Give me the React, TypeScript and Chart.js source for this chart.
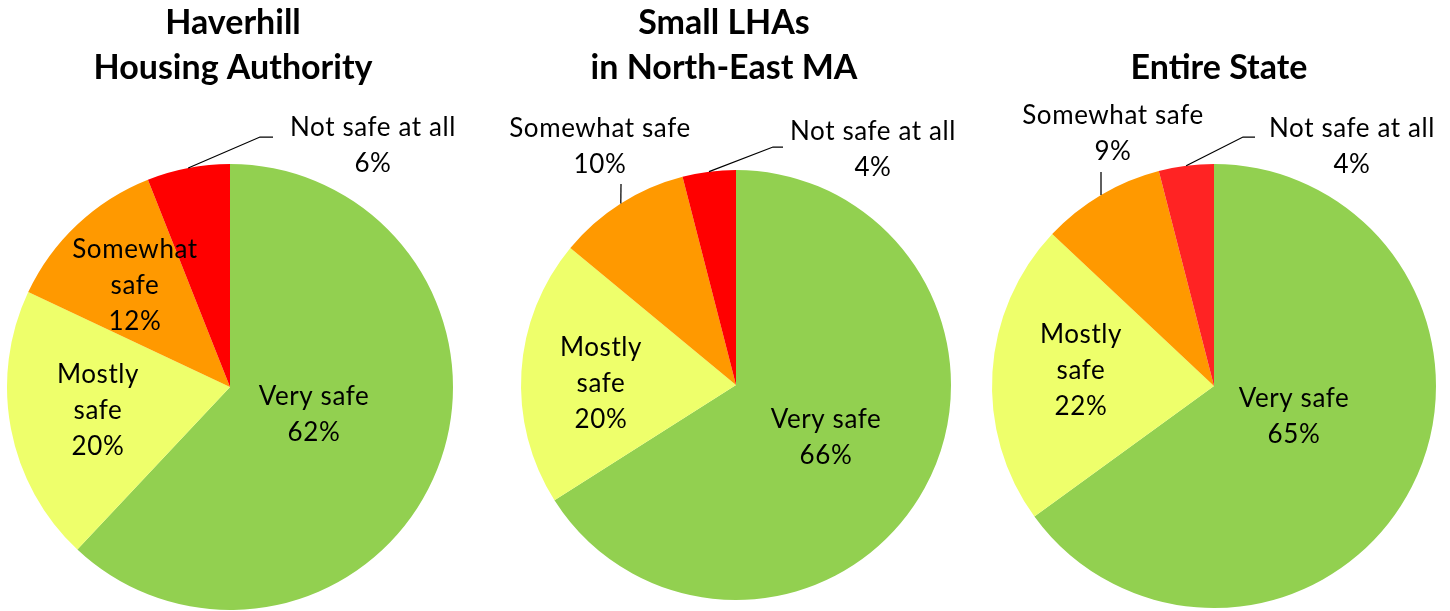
import React, { useEffect, useRef } from "react";
import { Chart, registerables } from "chart.js";

Chart.register(...registerables);

// ---------- data ----------
const categories = ["Very safe", "Mostly safe", "Somewhat safe", "Not safe at all"];

const haverhillTitle = ["Haverhill", "Housing Authority"];
const smallLhaTitle = ["Small LHAs", "in North-East MA"];
const stateTitle = ["Entire State"];

const haverhillValues = [62, 20, 12, 6];
const smallLhaValues = [66, 20, 10, 4];
const stateValues = [65, 22, 9, 4];

const sliceColors = ["#92D050", "#EEFF6B", "#FF9900", "#FF0000"];
const stateSliceColors = ["#92D050", "#EEFF6B", "#FF9900", "#FF2323"];

// ---------- layout / style ----------
const W = 1450;
const H = 611;
const FONT = "Lato, 'Open Sans', 'Liberation Sans', sans-serif";
const TITLE_SIZE = 34;
const TITLE_LH = 45;
const TITLE_BASELINE = 79;
const LABEL_SIZE = 26;
const LABEL_SPACING = "0.6px";
const LABEL_LH = 36;

type Place = { dx: number; dy: number; wrap?: boolean; leader?: number[][] };
type PieCfg = {
  title: string[];
  values: number[];
  colors: string[];
  cx: number;
  cy: number;
  r: number;
  titleDx: number;
  places: Place[];
};

const pies: PieCfg[] = [
  {
    title: haverhillTitle,
    values: haverhillValues,
    colors: sliceColors,
    cx: 230,
    cy: 387,
    r: 223,
    titleDx: 3,
    places: [
      { dx: 84, dy: 18 },
      { dx: -132, dy: -4, wrap: true },
      { dx: -95, dy: -129, wrap: true },
      { dx: 143, dy: -251, leader: [[30, -250], [43, -250]] },
    ],
  },
  {
    title: smallLhaTitle,
    values: smallLhaValues,
    colors: sliceColors,
    cx: 736,
    cy: 385,
    r: 215,
    titleDx: -12,
    places: [
      { dx: 90, dy: 43 },
      { dx: -135, dy: -29, wrap: true },
      { dx: -136, dy: -248, leader: [[-115, -201]] },
      { dx: 137, dy: -245, leader: [[37, -238], [47, -238]] },
    ],
  },
  {
    title: stateTitle,
    values: stateValues,
    colors: stateSliceColors,
    cx: 1214,
    cy: 386,
    r: 222,
    titleDx: 5,
    places: [
      { dx: 80, dy: 21 },
      { dx: -133, dy: -43, wrap: true },
      { dx: -101, dy: -262, leader: [[-113, -214]] },
      { dx: 138, dy: -249, leader: [[29, -249], [41, -249]] },
    ],
  },
];

function makeLabelPlugin(cfg: PieCfg) {
  return {
    id: "pieLabels",
    afterDraw(chart: any) {
      const { ctx } = chart;
      const meta = chart.getDatasetMeta(0);
      const first = meta.data[0] as any;
      const cx = first.x;
      const cy = first.y;
      ctx.save();
      ctx.fillStyle = "#000";
      ctx.strokeStyle = "#000";
      ctx.lineWidth = 1.25;
      ctx.textAlign = "center";
      ctx.textBaseline = "alphabetic";

      // title
      ctx.font = `bold ${TITLE_SIZE}px ${FONT}`;
      const n = cfg.title.length;
      cfg.title.forEach((line, i) => {
        ctx.fillText(line, cx + cfg.titleDx, TITLE_BASELINE - (n - 1 - i) * TITLE_LH);
      });

      // slice labels
      ctx.font = `${LABEL_SIZE}px ${FONT}`;
      try {
        (ctx as any).letterSpacing = LABEL_SPACING;
      } catch (e) {}
      meta.data.forEach((el: any, i: number) => {
        const place = cfg.places[i];
        const name = categories[i];
        const lines = place.wrap ? name.split(" ") : [name];
        lines.push(`${cfg.values[i]}%`);
        const x = cx + place.dx;
        const y = cy + place.dy;
        lines.forEach((ln, k) => ctx.fillText(ln, x, y + k * LABEL_LH));
        if (place.leader) {
          const mid = (el.startAngle + el.endAngle) / 2;
          const sx = cx + Math.cos(mid) * el.outerRadius;
          const sy = cy + Math.sin(mid) * el.outerRadius;
          ctx.beginPath();
          ctx.moveTo(sx, sy);
          place.leader.forEach(([px, py]) => ctx.lineTo(cx + px, cy + py));
          ctx.stroke();
        }
      });
      ctx.restore();
    },
  };
}

function PieCanvas({ cfg }: { cfg: PieCfg }) {
  const ref = useRef<HTMLCanvasElement | null>(null);
  useEffect(() => {
    if (!ref.current) return;
    const chart = new Chart(ref.current, {
      type: "pie",
      data: {
        labels: categories,
        datasets: [
          {
            data: cfg.values,
            backgroundColor: cfg.colors,
            borderWidth: 0,
          },
        ],
      },
      options: {
        responsive: false,
        animation: false,
        radius: cfg.r,
        layout: {
          padding: {
            left: cfg.cx - cfg.r,
            right: W - (cfg.cx + cfg.r),
            top: cfg.cy - cfg.r,
            bottom: H - (cfg.cy + cfg.r),
          },
        },
        plugins: {
          legend: { display: false },
          tooltip: { enabled: false },
        },
        events: [],
      } as any,
      plugins: [makeLabelPlugin(cfg)],
    });
    return () => chart.destroy();
  }, [cfg]);
  return (
    <canvas
      ref={ref}
      width={W}
      height={H}
      style={{ position: "absolute", left: 0, top: 0, width: W, height: H }}
    />
  );
}

export default function App() {
  return (
    <div
      style={{
        position: "absolute",
        left: 0,
        top: 0,
        width: W,
        height: H,
        background: "#fff",
        overflow: "hidden",
      }}
    >
      {pies.map((p, i) => (
        <PieCanvas key={i} cfg={p} />
      ))}
    </div>
  );
}
